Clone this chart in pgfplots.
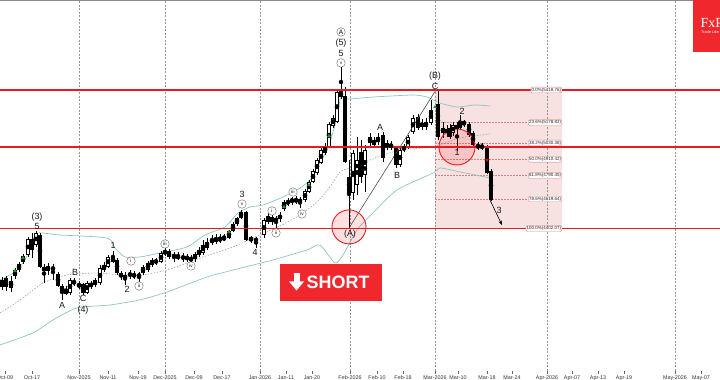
\documentclass[border=0pt]{standalone}
\usepackage{fontspec}
\setmainfont{Liberation Sans}
\newfontfamily\logofont{Liberation Serif}
\usepackage{pgfplots}
\usepackage{pgfplotstable}
\pgfplotsset{compat=1.18}
\usetikzlibrary{arrows.meta}
\definecolor{fxred}{RGB}{240,40,45}
\definecolor{lvlred}{RGB}{232,28,32}
\definecolor{fibpink}{RGB}{247,225,225}
\definecolor{fibline}{RGB}{222,128,128}
\definecolor{band}{RGB}{140,196,196}
\definecolor{bandmid}{RGB}{150,165,165}
\definecolor{gridc}{RGB}{150,150,150}
\definecolor{bullgreen}{RGB}{30,160,40}

\pgfplotstableread{
x o h l c
2 3975 4048 3953 4026
6 4041 4055 3946 3975
11 3967 4055 3938 4019
15 4055 4114 4033 4099
19 4099 4158 4085 4143
23 4158 4217 4143 4202
28 4209 4341 4195 4327
32 4327 4371 4187 4246
36 4283 4385 4268 4371
40 4356 4371 4114 4121
44 4121 4143 4004 4092
48 4092 4151 4063 4129
53 4121 4143 4026 4099
58 4070 4085 3975 3982
62 3982 3997 3880 3946
66 3924 3982 3916 3960
70 3931 4041 3916 4026
74 4019 4041 3982 3997
79 3975 4019 3960 3997
83 3997 4004 3916 3931
87 3931 4019 3924 4004
91 3975 4019 3960 4004
95 3989 4041 3975 4026
100 4004 4136 3989 4114
104 4099 4158 4085 4136
108 4121 4209 4114 4195
113 4195 4239 4151 4158
117 4173 4187 4063 4077
121 4077 4092 4026 4048
125 4033 4085 3989 4063
130 4055 4099 4033 4077
134 4048 4092 4033 4070
139 4070 4085 4011 4048
143 4077 4136 4063 4121
148 4099 4165 4085 4151
152 4136 4187 4121 4173
156 4151 4187 4136 4173
161 4158 4239 4151 4224
165 4217 4261 4202 4239
169 4239 4253 4180 4195
174 4209 4231 4158 4195
178 4202 4231 4173 4187
183 4195 4224 4158 4187
187 4195 4217 4158 4180
191 4187 4209 4143 4173
195 4180 4231 4158 4217
199 4209 4268 4195 4246
203 4224 4319 4209 4283
207 4261 4334 4246 4305
212 4305 4356 4283 4319
216 4312 4363 4290 4327
220 4319 4363 4297 4327
224 4334 4363 4312 4327
229 4334 4393 4327 4385
233 4385 4451 4378 4437
237 4437 4488 4422 4481
241 4481 4539 4473 4525
246 4525 4532 4312 4319
251 4334 4349 4297 4319
256 4327 4341 4261 4312
264 4356 4481 4334 4466
268 4451 4517 4437 4495
272 4488 4510 4429 4451
276 4481 4495 4407 4451
280 4473 4525 4451 4503
284 4547 4612 4532 4598
288 4605 4627 4569 4583
292 4620 4634 4576 4598
296 4598 4642 4583 4620
300 4620 4634 4554 4591
305 4612 4693 4598 4678
309 4671 4759 4664 4744
313 4744 4840 4737 4825
317 4810 4920 4796 4906
321 4884 4994 4876 4979
325 4957 5030 4942 5001
329 5001 5184 4994 5170
333 5155 5236 5140 5214
337 5184 5419 5177 5404
341 5411 5602 5353 5367
345 5375 5441 4884 4891
349 4781 4906 4407 4664
353 4664 4979 4612 4957
357 4722 5074 4649 4906
361 4964 5052 4737 4781
365 4796 5016 4671 4979
370 5030 5104 5001 5074
374 5052 5074 4994 5016
378 5038 5104 5016 5074
383 5089 5111 4891 4920
387 4994 5052 4979 5030
391 5023 5045 4979 4994
396 4994 5008 4847 4869
400 4869 4994 4854 4979
404 4979 5023 4964 5001
408 5001 5089 4986 5074
413 5111 5236 5096 5214
418 5221 5243 5126 5140
422 5148 5206 5126 5177
426 5148 5214 5126 5184
431 5177 5345 5162 5272
438 5316 5411 5052 5074
443 5140 5184 5067 5104
447 5104 5162 5074 5133
450 5140 5170 5060 5074
453 5104 5184 5082 5162
457 5162 5184 4972 5133
460 5140 5236 5126 5184
464 5184 5199 5148 5170
469 5170 5184 5074 5089
473 5104 5118 5001 5016
478 5008 5038 4979 5001
482 5001 5030 4979 5004
487 5001 5016 4803 4810
491 4825 4840 4605 4612
}\candles

\begin{document}
\begin{tikzpicture}[
  wl/.style={font=\fontsize{9}{9}\selectfont, text=black!90, inner sep=0pt},
  cl/.style={circle, draw=black!60, line width=0.4bp, fill=white, inner sep=0pt, minimum size=8.5bp, font=\fontsize{4.6}{5}\selectfont},
  fl/.style={draw=fibline, fill=white, rounded corners=1bp, inner sep=0.7bp, anchor=east, font=\fontsize{4.5}{5}\selectfont, text=black!85},
  fd/.style={fibline, line width=0.5bp, dash pattern=on 1.5bp off 1.5bp},
  gd/.style={gridc, line width=0.9bp, dash pattern=on 2bp off 1.5bp}
]
\begin{axis}[
  at={(0,9bp)}, anchor=south west,
  scale only axis, width=720bp, height=370bp,
  xmin=0, xmax=720, ymin=3359, ymax=6071,
  axis line style={draw=none},
  ytick=\empty,
  xtick={5,32,79,108,138,165,194,222,260,286,312,350,377,403,435,458,487,512,547,572,598,624,675,701},
  xticklabels={Oct-09,Oct-17,Nov-2025,Nov-11,Nov-19,Dec-2025,Dec-09,Dec-17,Jan-2026,Jan-11,Jan-20,Feb-2026,Feb-10,Feb-18,Mar-2026,Mar-10,Mar-18,Mar-24,Apr-2026,Apr-07,Apr-13,Apr-19,May-2026,May-07},
  tick align=outside, xtick pos=left,
  major tick length=3bp,
  tick style={black!60, line width=0.6bp},
  xticklabel style={font=\fontsize{5.4}{6}\selectfont, text=black!80, inner sep=0pt, yshift=-1.5bp},
]
% Fibonacci box
\fill[fibpink] (axis cs:435,5418.76) rectangle (axis cs:562,4402.07);
% month grid
\draw[gd] (axis cs:79,3359) -- (axis cs:79,6071);
\draw[gd] (axis cs:165,3359) -- (axis cs:165,6071);
\draw[gd] (axis cs:260,3359) -- (axis cs:260,6071);
\draw[gd] (axis cs:350,3359) -- (axis cs:350,6071);
\draw[gd] (axis cs:435,3359) -- (axis cs:435,6071);
\draw[gd] (axis cs:547,3359) -- (axis cs:547,6071);
\draw[gd] (axis cs:675,3359) -- (axis cs:675,6071);
\draw[fd] (axis cs:435,5418.76) -- (axis cs:530,5418.76);
\draw[fd] (axis cs:435,5178.82) -- (axis cs:530,5178.82);
\draw[fd] (axis cs:435,5030.38) -- (axis cs:530,5030.38);
\draw[fd] (axis cs:435,4910.42) -- (axis cs:530,4910.42);
\draw[fd] (axis cs:435,4790.45) -- (axis cs:530,4790.45);
\draw[fd] (axis cs:435,4619.64) -- (axis cs:530,4619.64);
\draw[fd] (axis cs:435,4402.07) -- (axis cs:530,4402.07);
% Bollinger bands
\addplot[band, line width=0.7bp, smooth, tension=0.4] coordinates {(0,4026) (15,4085) (25,4173) (33,4319) (38,4371) (60,4356) (107,4334) (115,4261) (125,4195) (140,4195) (160,4224) (187,4268) (205,4356) (225,4415) (238,4517) (250,4561) (263,4576) (283,4634) (300,4700) (310,4759) (317,4847) (328,4994) (337,5214) (341,5382) (347,5353) (373,5367) (413,5382) (427,5367) (440,5323) (457,5294) (475,5309) (490,5301)};
\addplot[bandmid, line width=0.6bp, dash pattern=on 1.5bp off 1.5bp, smooth, tension=0.4] coordinates {(0,3784) (20,3880) (43,4004) (67,4063) (100,4077) (133,4055) (167,4099) (200,4187) (233,4268) (255,4341) (280,4422) (300,4503) (317,4598) (330,4708) (340,4818) (350,4847) (370,4906) (400,4979) (433,5001) (460,5067) (490,5096)};
\addplot[band, line width=0.7bp, smooth, tension=0.4] coordinates {(0,3550) (33,3638) (53,3733) (77,3821) (110,3843) (140,3880) (167,3938) (207,4048) (233,4099) (273,4173) (307,4246) (320,4283) (335,4151) (343,4209) (357,4393) (373,4517) (397,4686) (433,4810) (440,4847) (460,4818) (490,4774)};
% candles: wicks
\addplot[only marks, mark=none, error bars/.cd, y dir=both, y explicit, error mark=none,
  error bar style={line width=0.8bp, black}]
  table[x=x, y expr={(\thisrow{h}+\thisrow{l})/2}, y error expr={(\thisrow{h}-\thisrow{l})/2}] {\candles};
% bodies
\addplot[only marks, mark=none, error bars/.cd, y dir=both, y explicit, error mark=none,
  error bar style={line width=3.2bp, black}]
  table[x=x, y expr={(\thisrow{o}+\thisrow{c})/2}, y error expr={max(abs(\thisrow{c}-\thisrow{o})/2,3.6)}] {\candles};
\addplot[only marks, mark=none, error bars/.cd, y dir=both, y explicit, error mark=none,
  error bar style={line width=1.4bp, white}]
  table[x=x, y expr={(\thisrow{o}+\thisrow{c})/2}, y error expr={max(0,(\thisrow{c}-\thisrow{o})/2-6.5)}] {\candles};
% arrow markers
\addplot[only marks, mark=triangle*, mark size=1.7bp, bullgreen] coordinates {(15,4092) (23,4187) (229,4378) (284,4561) (309,4722) (329,5082) (435,5294)};
\addplot[only marks, mark=triangle*, mark size=1.5bp, red, mark options={rotate=180}] coordinates {(487,4906)};
% horizontal levels
\draw[lvlred, line width=1.4bp] (axis cs:0,5418.76) -- (axis cs:720,5418.76);
\draw[lvlred, line width=1.4bp] (axis cs:0,5000) -- (axis cs:720,5000);
\draw[lvlred, line width=1.4bp] (axis cs:0,4402.07) -- (axis cs:720,4402.07);
% fib labels
\node[fl] at (axis cs:562,5418.76) {0.0\%(5418.76)};
\node[fl] at (axis cs:562,5178.82) {23.6\%(5178.82)};
\node[fl] at (axis cs:562,5030.38) {38.2\%(5030.38)};
\node[fl] at (axis cs:562,4910.42) {50.0\%(4910.42)};
\node[fl] at (axis cs:562,4790.45) {61.8\%(4790.45)};
\node[fl] at (axis cs:562,4619.64) {78.6\%(4619.64)};
\node[fl] at (axis cs:562,4402.07) {100.0\%(4402.07)};
% trend line and circles
\draw[black!70, line width=0.6bp] (axis cs:349,4407) -- (axis cs:436,5419);
\draw[lvlred, line width=0.9bp, fill=red, fill opacity=0.12] (axis cs:349,4415) circle[radius=17bp];
\draw[lvlred, line width=0.9bp, fill=red, fill opacity=0.12] (axis cs:457,5001) circle[radius=18bp];
\draw[black, line width=0.6bp, -{Stealth[length=4.5bp,width=3.5bp]}] (axis cs:490,4612) -- (axis cs:502,4429);
% wave labels
\node[wl] at (axis cs:37,4488) {(3)};
\node[wl] at (axis cs:37,4415) {5};
\node[wl] at (axis cs:62,3843) {A};
\node[wl] at (axis cs:75,4085) {B};
\node[wl] at (axis cs:83,3894) {C};
\node[wl] at (axis cs:83,3806) {(4)};
\node[wl] at (axis cs:113,4283) {1};
\node[wl] at (axis cs:127,3960) {2};
\node[cl] at (axis cs:131,4165) {i};
\node[cl] at (axis cs:139,3982) {ii};
\node[cl] at (axis cs:165,4290) {iii};
\node[cl] at (axis cs:191,4129) {iv};
\node[wl] at (axis cs:242,4656) {3};
\node[cl] at (axis cs:242,4583) {v};
\node[wl] at (axis cs:255,4231) {4};
\node[cl] at (axis cs:272,4532) {i};
\node[cl] at (axis cs:276,4371) {ii};
\node[cl] at (axis cs:293,4671) {iii};
\node[cl] at (axis cs:302,4510) {iv};
\node[cl, font=\fontsize{6.5}{7}\selectfont] at (axis cs:341,5844) {A};
\node[wl] at (axis cs:341,5763) {(5)};
\node[wl] at (axis cs:341,5690) {5};
\node[cl] at (axis cs:341,5617) {v};
\node[wl] at (axis cs:350,4363) {(A)};
\node[wl] at (axis cs:380,5148) {A};
\node[wl] at (axis cs:397,4796) {B};
\node[wl] at (axis cs:435,5521) {(B)};
\node[wl] at (axis cs:435,5448) {C};
\node[wl] at (axis cs:457,4964) {1};
\node[wl] at (axis cs:462,5265) {2};
\node[wl] at (axis cs:499,4539) {3};
% frame lines
\draw[black!45, line width=1bp] (rel axis cs:0,1) -- (rel axis cs:1,1);
\draw[black!65, line width=0.8bp] (rel axis cs:0,0) -- (rel axis cs:1,0);
\end{axis}
% SHORT button
\fill[fxred] (280bp,116bp) rectangle (382bp,79bp);
\fill[white] (293.5bp,107bp) rectangle (299.5bp,98bp);
\fill[white] (289bp,98.5bp) -- (304bp,98.5bp) -- (296.5bp,89.5bp) -- cycle;
\node[anchor=west, inner sep=0pt, white, font=\fontsize{18}{18}\selectfont\bfseries] at (306.5bp,97.5bp) {SHORT};
% logo
\fill[fxred] (693bp,380bp) rectangle (722bp,328bp);
\node[anchor=base west, inner sep=0pt, white, font=\fontsize{14}{14}\selectfont\logofont] at (700.5bp,352bp) {FxPro};
\node[anchor=base west, inner sep=0pt, white, font=\fontsize{3.8}{4}\selectfont] at (701bp,346bp) {Trade Like a Pro};
\pgfresetboundingbox
\path[use as bounding box] (0,0) rectangle (720bp,380bp);
\end{tikzpicture}
\end{document}
